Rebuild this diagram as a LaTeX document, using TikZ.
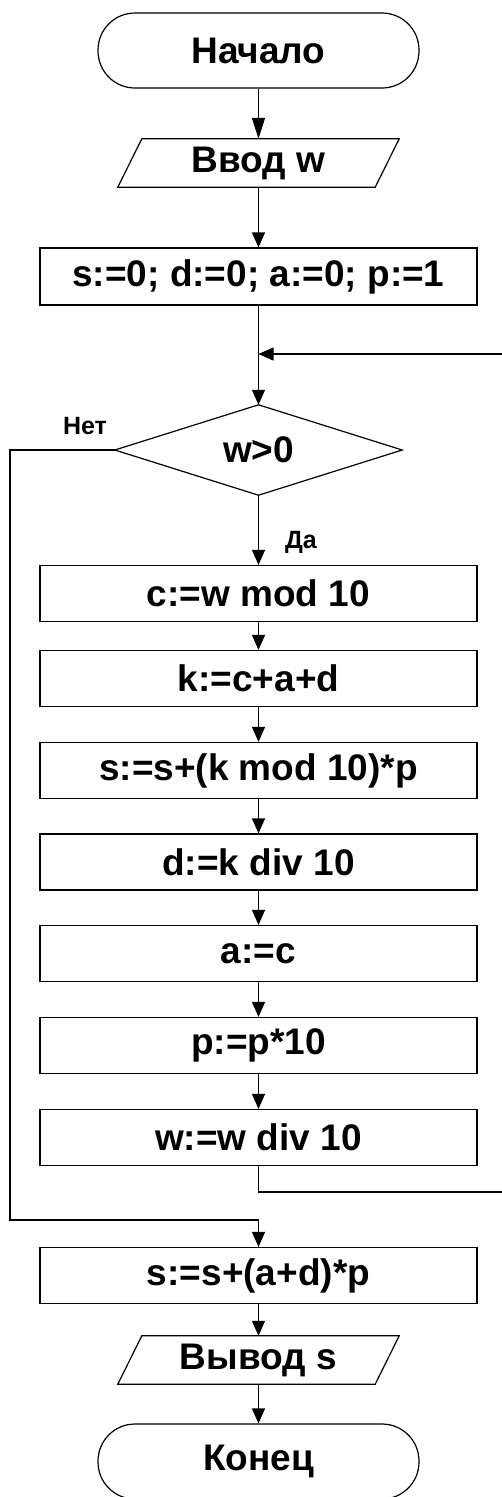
\documentclass[tikz,border=0pt]{standalone}
\usepackage{fontspec}
\setmainfont{Liberation Sans}
\usetikzlibrary{arrows.meta}

\tikzset{
  every node/.style={font=\fontsize{37}{41}\selectfont\bfseries, inner sep=0pt},
  flow/.style={line width=1.2pt, draw=black},
  arr/.style={flow, -{Triangle[length=15pt,width=13pt]}},
  terminal/.style={draw, line width=1.2pt, rounded corners=37pt,
    minimum width=321pt, minimum height=75pt},
  process/.style={draw, line width=1.2pt, minimum width=437pt, minimum height=56pt},
  iobox/.style={minimum width=257pt, minimum height=48pt},
  decisionbox/.style={minimum width=287pt, minimum height=90pt},
  branchlabel/.style={font=\fontsize{25}{28}\selectfont\bfseries}
}

\begin{document}
\begin{tikzpicture}[x=1pt, y=1pt]
  \clip (0,0) rectangle (502,-1497);

  % blocks, top to bottom
  \node[terminal] (start) at (258.5,-50.5) {Начало};
  \node[iobox]    (inp)   at (258.5,-163)  {Ввод w};
  \node[process, minimum height=57pt] (init) at (258.5,-276.5) {s:=0; d:=0; a:=0; p:=1};
  \node[decisionbox] (cond) at (258.5,-450) {w>0};
  \node[process] (c)  at (258.5,-593.5)  {c:=w mod 10};
  \node[process] (k)  at (258.5,-678.5)  {k:=c+a+d};
  \node[process] (s)  at (258.5,-770.5)  {s:=s+(k mod 10)*p};
  \node[process] (d)  at (258.5,-862)    {d:=k div 10};
  \node[process] (a)  at (258.5,-953.5)  {a:=c};
  \node[process] (p)  at (258.5,-1045.5) {p:=p*10};
  \node[process] (w)  at (258.5,-1137.5) {w:=w div 10};
  \node[process] (fin) at (258.5,-1275.5) {s:=s+(a+d)*p};
  \node[iobox]    (out) at (258.5,-1360)  {Вывод s};
  \node[terminal] (stop) at (258.5,-1461.5) {Конец};

  % parallelograms and the decision diamond
  \foreach \n in {inp,out}{
    \draw[flow] ([xshift=-12pt]\n.south west) -- ([xshift=12pt]\n.north west)
      -- ([xshift=12pt]\n.north east) -- ([xshift=-12pt]\n.south east) -- cycle;
  }
  \draw[flow] (cond.west) -- (cond.north) -- (cond.east) -- (cond.south) -- cycle;

  % branch labels
  \node[branchlabel] (no)  at (85,-426)  {Нет};
  \node[branchlabel] (yes) at (301,-542) {Да};

  % helper points of the loop and of the exit path
  \coordinate (join)  at (258.5,-354);
  \coordinate (back1) at (258.5,-1192);
  \coordinate (back2) at (530,-1192);
  \coordinate (back3) at (530,-354);
  \coordinate (exit1) at (10,-450);
  \coordinate (exit2) at (10,-1220);
  \coordinate (exit3) at (258.5,-1220);

  % main flow
  \draw[arr, -{Triangle[length=21pt,width=13pt]}] (start) -- (inp.north);
  \draw[arr] (inp.south) -- (init);
  \draw[arr] (init) -- (cond.north);
  \draw[arr] (cond.south) -- (c);
  \draw[arr] (c) -- (k);
  \draw[arr] (k) -- (s);
  \draw[arr] (s) -- (d);
  \draw[arr] (d) -- (a);
  \draw[arr] (a) -- (p);
  \draw[arr] (p) -- (w);

  % loop back to the condition
  \draw[flow] (w.south) -- (back1) -- (back2) -- (back3);
  \draw[arr] (back3) -- (join);

  % exit when the condition fails
  \draw[flow] (cond.west) -- (exit1) -- (exit2) -- (exit3);
  \draw[arr] (exit3) -- (fin);

  \draw[arr] (fin) -- (out.north);
  \draw[arr] (out.south) -- (stop);
\end{tikzpicture}
\end{document}
